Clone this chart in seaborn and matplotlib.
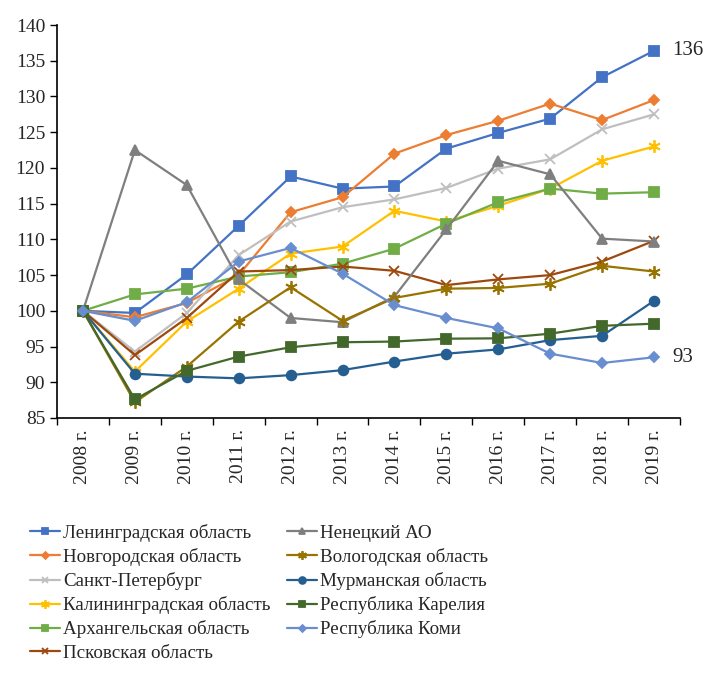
import pandas as pd
import matplotlib.pyplot as plt
import seaborn as sns

years = ["2008 г.", "2009 г.", "2010 г.", "2011 г.", "2012 г.", "2013 г.",
         "2014 г.", "2015 г.", "2016 г.", "2017 г.", "2018 г.", "2019 г."]

leningrad = [100, 99.7, 105.1, 111.9, 118.8, 117.1, 117.4, 122.7, 124.9, 126.9, 132.7, 136.4]
novgorod = [100, 99.1, 101.1, 105.0, 113.8, 115.9, 122.0, 124.6, 126.6, 129.0, 126.7, 129.5]
spb = [100, 94.3, 99.7, 107.8, 112.5, 114.5, 115.6, 117.2, 119.9, 121.2, 125.4, 127.5]
kaliningrad = [100, 91.5, 98.5, 103.1, 108.0, 109.0, 114.0, 112.5, 114.7, 117.1, 121.0, 123.0]
arkhangelsk = [100, 102.3, 103.1, 104.8, 105.4, 106.6, 108.7, 112.2, 115.2, 117.1, 116.4, 116.6]
pskov = [100, 93.8, 99.0, 105.5, 105.7, 106.2, 105.6, 103.6, 104.4, 105.0, 106.9, 109.8]
nenets = [100, 122.5, 117.6, 104.4, 99.0, 98.4, 102.0, 111.4, 121.0, 119.1, 110.1, 109.7]
vologda = [100, 87.2, 92.2, 98.5, 103.3, 98.6, 101.8, 103.1, 103.2, 103.8, 106.3, 105.5]
murmansk = [100, 91.2, 90.8, 90.55, 91.0, 91.7, 92.9, 94.0, 94.6, 95.9, 96.5, 101.4]
karelia = [100, 87.6, 91.6, 93.6, 94.9, 95.6, 95.7, 96.1, 96.15, 96.8, 97.9, 98.2]
komi = [100, 98.6, 101.2, 106.9, 108.8, 105.2, 100.8, 99.0, 97.55, 94.0, 92.7, 93.5]

asterisk = (6, 2, 0)
series = [
    ("Ленинградская область", leningrad, "#4472C4", "s", 7),
    ("Новгородская область", novgorod, "#ED7D31", "D", 5),
    ("Санкт-Петербург", spb, "#BFBFBF", "x", 7),
    ("Калининградская область", kaliningrad, "#FFC000", asterisk, 9),
    ("Архангельская область", arkhangelsk, "#70AD47", "s", 7),
    ("Псковская область", pskov, "#9E480E", "x", 7),
    ("Ненецкий АО", nenets, "#7F7F7F", "^", 7),
    ("Вологодская область", vologda, "#997300", asterisk, 9),
    ("Мурманская область", murmansk, "#255E91", "o", 7),
    ("Республика Карелия", karelia, "#43682B", "s", 7),
    ("Республика Коми", komi, "#698ED0", "D", 5),
]

sns.set_style("white")
plt.rcParams["font.family"] = ["Liberation Serif", "DejaVu Serif"]

fig = plt.figure(figsize=(7.08, 6.75), dpi=100)
ax = fig.add_axes([57 / 708, 1 - 418 / 675, (680 - 57) / 708, (418 - 25) / 675])

pos = list(range(len(years)))
for name, vals, color, marker, ms in series:
    df = pd.DataFrame({"x": pos, "y": vals})
    sns.lineplot(data=df, x="x", y="y", ax=ax, color=color, marker=marker,
                 markersize=ms, markeredgecolor=color, markeredgewidth=1.3,
                 linewidth=1.6, label=name)

ax.text(11.35, leningrad[-1], "136", fontsize=15, va="center", ha="left")
ax.text(11.35, komi[-1], "93", fontsize=15, va="center", ha="left")

ax.set_xlim(-0.5, 11.5)
ax.set_ylim(85, 140)
ax.set_yticks(range(85, 141, 5))
ax.set_xticks(pos)
ax.set_xticklabels(years, rotation=90, fontsize=14)
ax.set_xticks([p - 0.5 for p in pos] + [11.5], minor=True)
ax.tick_params(axis="x", which="major", length=0, pad=8)
ax.tick_params(axis="x", which="minor", length=5, width=1, color="black", direction="out", bottom=True)
ax.tick_params(axis="y", length=5, width=1, color="black", direction="out", left=True, labelsize=14)
ax.set_xlabel("")
ax.set_ylabel("")
for side in ["top", "right"]:
    ax.spines[side].set_visible(False)
for side in ["left", "bottom"]:
    ax.spines[side].set_color("black")
    ax.spines[side].set_linewidth(1.2)

handles, labels = ax.get_legend_handles_labels()
ax.legend(handles, labels, ncol=2, frameon=False, fontsize=13.7, markerscale=0.7,
          loc="upper left", bbox_to_anchor=(30 / 708, 1 - 524 / 675),
          bbox_transform=fig.transFigure, handlelength=1.6, handletextpad=0.15,
          columnspacing=0.85, labelspacing=0.32, borderaxespad=0, borderpad=0)

fig.savefig("out.png", dpi=100)
